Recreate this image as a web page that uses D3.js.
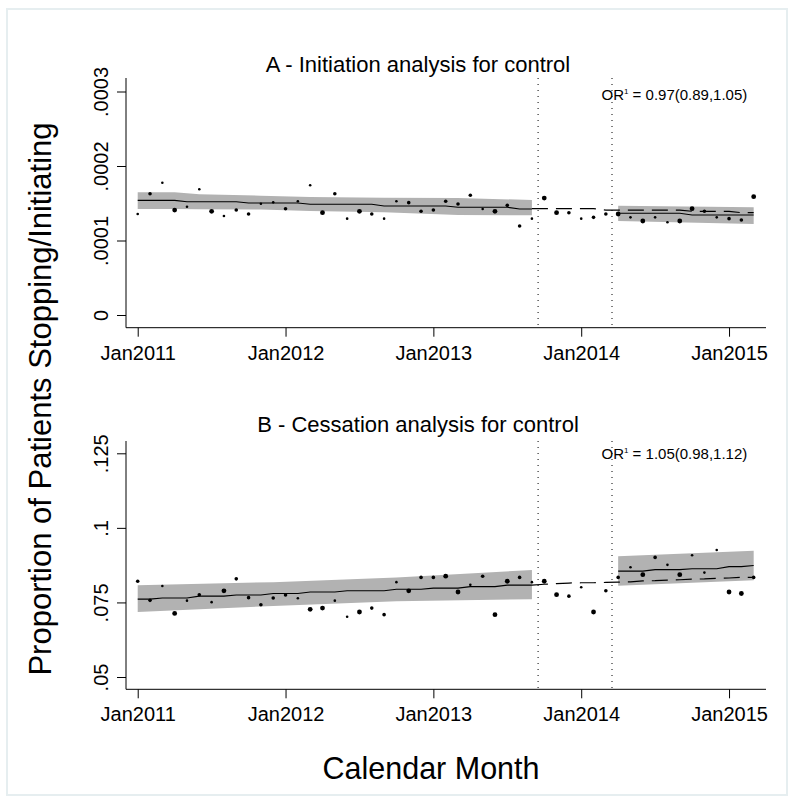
<!DOCTYPE html>
<html>
<head>
<meta charset="utf-8">
<script src="https://cdn.jsdelivr.net/npm/d3@7"></script>
<style>
  body { margin: 0; background: #fff; }
  text { font-family: "Liberation Sans", Arial, Helvetica, sans-serif; fill: #000; }
</style>
</head>
<body>
<svg id="chart" width="794" height="802"></svg>
<script>
// month index 0 = Jan2011 ... 50 = Mar2015
const tickMonths = [0, 12, 24, 36, 48];
const tickLabels = ["Jan2011", "Jan2012", "Jan2013", "Jan2014", "Jan2015"];
const interventionLines = [32.5, 38.5];

// Panel A - initiation (proportions)
const obsA = [0.0001356,0.0001628,0.0001776,0.0001409,0.0001454,0.0001687,0.0001392,0.0001329,0.0001409,0.0001356,
  0.0001494,0.0001512,0.0001427,0.0001526,0.0001741,0.0001373,0.0001628,0.0001293,0.0001392,0.0001356,
  0.0001293,0.0001526,0.0001508,0.0001392,0.0001409,0.0001526,0.0001490,0.0001607,0.0001423,0.0001392,
  0.0001472,0.0001195,0.0001293,0.0001570,0.0001373,0.0001373,0.0001293,0.0001311,0.0001356,0.0001356,
  0.0001311,0.0001262,0.0001311,0.0001244,0.0001262,0.0001427,0.0001392,0.0001311,0.0001293,0.0001275,0.0001588];
const sizeA = [1,2,1,3,1,1,3,1,2,2,1,1,2,1,1,3,2,1,3,2,1,1,2,2,2,2,2,2,1,3,2,2,1,3,3,2,1,2,2,3,1,3,1,1,3,3,2,1,2,2,3];
const preFitA = [0.0001539,0.0001539,0.0001539,0.0001539,0.0001521,0.0001521,0.0001521,0.0001521,0.0001521,
  0.0001503,0.0001503,0.0001503,0.0001503,0.0001503,0.0001486,0.0001486,0.0001486,0.0001486,0.0001486,0.0001486,
  0.0001463,0.0001463,0.0001463,0.0001463,0.0001463,0.0001463,0.0001446,0.0001446,0.0001446,0.0001446,0.0001446,
  0.0001423,0.0001423];
const preBandIdxA = [0, 3, 5, 10, 14, 20, 26, 32];
const preUpperA = [0.0001647,0.0001647,0.0001620,0.0001601,0.0001584,0.0001575,0.0001570,0.0001544];
const preLowerA = [0.0001423,0.0001423,0.0001420,0.0001415,0.0001396,0.0001380,0.0001342,0.0001338];
const cfA = [0.0001427,0.0001427,0.0001427,0.0001427,0.0001427,0.0001427,0.0001409,0.0001409,0.0001409,0.0001409,
  0.0001409,0.0001409,0.0001409,0.0001392,0.0001392,0.0001392,0.0001392,0.0001373,0.0001373];
const postFitA = [0.0001365,0.0001365,0.0001365,0.0001365,0.0001365,0.0001365,0.0001342,0.0001342,0.0001342,0.0001342,0.0001342,0.0001342];
const postBandIdxA = [39, 50];
const postUpperA = [0.0001467, 0.0001446];
const postLowerA = [0.0001262, 0.0001221];
const yTicksA = [0, 0.0001, 0.0002, 0.0003];
const yTickLabelsA = ["0", ".0001", ".0002", ".0003"];

// Panel B - cessation
const obsB = [0.0821,0.0757,0.0805,0.0713,0.0756,0.0776,0.0751,0.0789,0.0829,0.0766,
  0.0742,0.0765,0.0775,0.0764,0.0727,0.0731,0.0756,0.0702,0.0718,0.0731,
  0.0709,0.0818,0.0789,0.0834,0.0834,0.0838,0.0785,0.0809,0.0838,0.0709,
  0.0821,0.0834,0.0818,0.0821,0.0776,0.0771,0.0801,0.0718,0.0789,0.0834,
  0.0868,0.0843,0.0901,0.0876,0.0843,0.0908,0.0850,0.0926,0.0785,0.0780,0.0834];
const sizeB = [2,2,1,3,1,2,1,3,2,2,2,2,2,1,3,3,1,1,3,2,2,1,3,2,2,3,3,1,2,3,3,2,1,3,3,2,1,3,2,2,1,3,2,1,3,1,1,1,3,3,2];
const preFitB = [0.0761,0.0761,0.0765,0.0765,0.0765,0.0771,0.0771,0.0771,0.0775,0.0775,0.0775,
  0.0780,0.0780,0.0780,0.0785,0.0785,0.0785,0.0789,0.0789,0.0789,0.0789,0.0794,0.0794,0.0794,
  0.0798,0.0798,0.0798,0.0803,0.0803,0.0803,0.0808,0.0808,0.0808];
const preBandIdxB = [0, 11, 21, 32];
const preUpperB = [0.0808, 0.0818, 0.0834, 0.0859];
const preLowerB = [0.0718, 0.0738, 0.0754, 0.0761];
const cfB = [0.0808,0.0811,0.0813,0.0815,0.0816,0.0816,0.0817,0.0818,0.0819,0.0822,
  0.0823,0.0825,0.0826,0.0828,0.0829,0.0831,0.0832,0.0834,0.0834];
const postFitB = [0.0855,0.0855,0.0855,0.0860,0.0860,0.0860,0.0863,0.0863,0.0863,0.0870,0.0870,0.0874];
const postBandIdxB = [39, 50];
const postUpperB = [0.0905, 0.0923];
const postLowerB = [0.0806, 0.0824];
const yTicksB = [0.05, 0.075, 0.1, 0.125];
const yTickLabelsB = [".05", ".075", ".1", ".125"];

const preStart = 0, cfStart = 32, postStart = 39;

const svg = d3.select("#chart");

// graph region frame
svg.append("rect").attr("x", 0).attr("y", 0).attr("width", 794).attr("height", 802).attr("fill", "#fff");
svg.append("rect").attr("x", 7).attr("y", 9).attr("width", 780).attr("height", 786)
  .attr("fill", "none").attr("stroke", "#e6eef0").attr("stroke-width", 2);

const x = d3.scaleLinear().domain([-0.95, 51]).range([126, 766]);

const panels = [
  { title: "A - Initiation analysis for control", or: "0.97(0.89,1.05)",
    obs: obsA, size: sizeA, preFit: preFitA, preBandIdx: preBandIdxA, preUpper: preUpperA, preLower: preLowerA,
    cf: cfA, postFit: postFitA, postBandIdx: postBandIdxA, postUpper: postUpperA, postLower: postLowerA,
    yDomain: [0, 0.0003], yRange: [315, 91.5], axisTop: 78, axisBottom: 327.7,
    yTicks: yTicksA, yTickLabels: yTickLabelsA, titleY: 71.7, orY: 100 },
  { title: "B - Cessation analysis for control", or: "1.05(0.98,1.12)",
    obs: obsB, size: sizeB, preFit: preFitB, preBandIdx: preBandIdxB, preUpper: preUpperB, preLower: preLowerB,
    cf: cfB, postFit: postFitB, postBandIdx: postBandIdxB, postUpper: postUpperB, postLower: postLowerB,
    yDomain: [0.05, 0.125], yRange: [677, 453.3], axisTop: 441, axisBottom: 689.3,
    yTicks: yTicksB, yTickLabels: yTickLabelsB, titleY: 432.3, orY: 459.3 }
];

const radius = { 1: 1.3, 2: 1.8, 3: 2.4 };

panels.forEach(function(p) {
  const y = d3.scaleLinear().domain(p.yDomain).range(p.yRange);
  const g = svg.append("g");

  // confidence bands
  const area = d3.area().x(d => x(d[0])).y0(d => y(d[1])).y1(d => y(d[2]));
  const preBand = p.preBandIdx.map((m, i) => [m, p.preLower[i], p.preUpper[i]]);
  const postBand = p.postBandIdx.map((m, i) => [m, p.postLower[i], p.postUpper[i]]);
  g.append("path").attr("d", area(preBand)).attr("fill", "#b2b2b2");
  g.append("path").attr("d", area(postBand)).attr("fill", "#b2b2b2");

  const line = d3.line().x(d => x(d[0])).y(d => y(d[1]));

  // counterfactual (dashed)
  g.append("path").attr("d", line(p.cf.map((v, i) => [cfStart + i, v])))
    .attr("fill", "none").attr("stroke", "#000").attr("stroke-width", 1.2)
    .attr("stroke-dasharray", "16,8");

  // fitted lines
  g.append("path").attr("d", line(p.preFit.map((v, i) => [preStart + i, v])))
    .attr("fill", "none").attr("stroke", "#000").attr("stroke-width", 1.1);
  g.append("path").attr("d", line(p.postFit.map((v, i) => [postStart + i, v])))
    .attr("fill", "none").attr("stroke", "#000").attr("stroke-width", 1.1);

  // observed points
  g.selectAll("circle.obs").data(p.obs).enter()
    .append("circle")
      .attr("class", "obs")
      .attr("cx", (d, i) => x(i))
      .attr("cy", d => y(d))
      .attr("r", (d, i) => radius[p.size[i]])
      .attr("fill", "#000");

  // intervention lines
  interventionLines.forEach(function(m) {
    g.append("line").attr("x1", x(m)).attr("x2", x(m))
      .attr("y1", p.axisTop).attr("y2", p.axisBottom)
      .attr("stroke", "#000").attr("stroke-width", 1)
      .attr("stroke-dasharray", "1,5");
  });

  // y axis
  const yAxis = d3.axisLeft(y).tickValues(p.yTicks)
    .tickFormat((d, i) => p.yTickLabels[i]).tickSize(9).tickSizeOuter(0);
  const ya = g.append("g").attr("transform", "translate(126,0)").call(yAxis);
  ya.select(".domain").remove();
  ya.selectAll(".tick line").attr("stroke", "#000");
  ya.selectAll(".tick text")
    .attr("x", null).attr("dy", null)
    .attr("text-anchor", "middle")
    .attr("transform", "translate(-18,0) rotate(-90)")
    .style("font-size", "20px")
    .style("font-family", "'Liberation Sans', Arial, sans-serif");
  ya.append("line").attr("x1", 0).attr("x2", 0).attr("y1", p.axisTop).attr("y2", p.axisBottom)
    .attr("stroke", "#000");

  // x axis
  const xAxis = d3.axisBottom(x).tickValues(tickMonths)
    .tickFormat((d, i) => tickLabels[i]).tickSize(9).tickSizeOuter(0);
  const xa = g.append("g").attr("transform", "translate(0," + p.axisBottom + ")").call(xAxis);
  xa.select(".domain").remove();
  xa.selectAll(".tick line").attr("stroke", "#000");
  xa.selectAll(".tick text").attr("y", 32).attr("dy", null)
    .style("font-size", "20px")
    .style("font-family", "'Liberation Sans', Arial, sans-serif");
  xa.append("line").attr("x1", 126).attr("x2", 766).attr("y1", 0).attr("y2", 0).attr("stroke", "#000");

  // panel title
  g.append("text").attr("x", 418).attr("y", p.titleY).attr("text-anchor", "middle")
    .style("font-size", "22px").text(p.title);

  // odds ratio note
  const t = g.append("text").attr("x", 601.5).attr("y", p.orY).style("font-size", "15px");
  t.append("tspan").text("OR");
  t.append("tspan").attr("dy", -6).style("font-size", "8px").text("1");
  t.append("tspan").attr("dy", 6).text(" = " + p.or);
});

// axis titles
svg.append("text").attr("transform", "translate(51,399) rotate(-90)")
  .attr("text-anchor", "middle").style("font-size", "31px")
  .text("Proportion of Patients Stopping/Initiating");
svg.append("text").attr("x", 431).attr("y", 779).attr("text-anchor", "middle")
  .style("font-size", "30.5px").text("Calendar Month");
</script>
</body>
</html>
